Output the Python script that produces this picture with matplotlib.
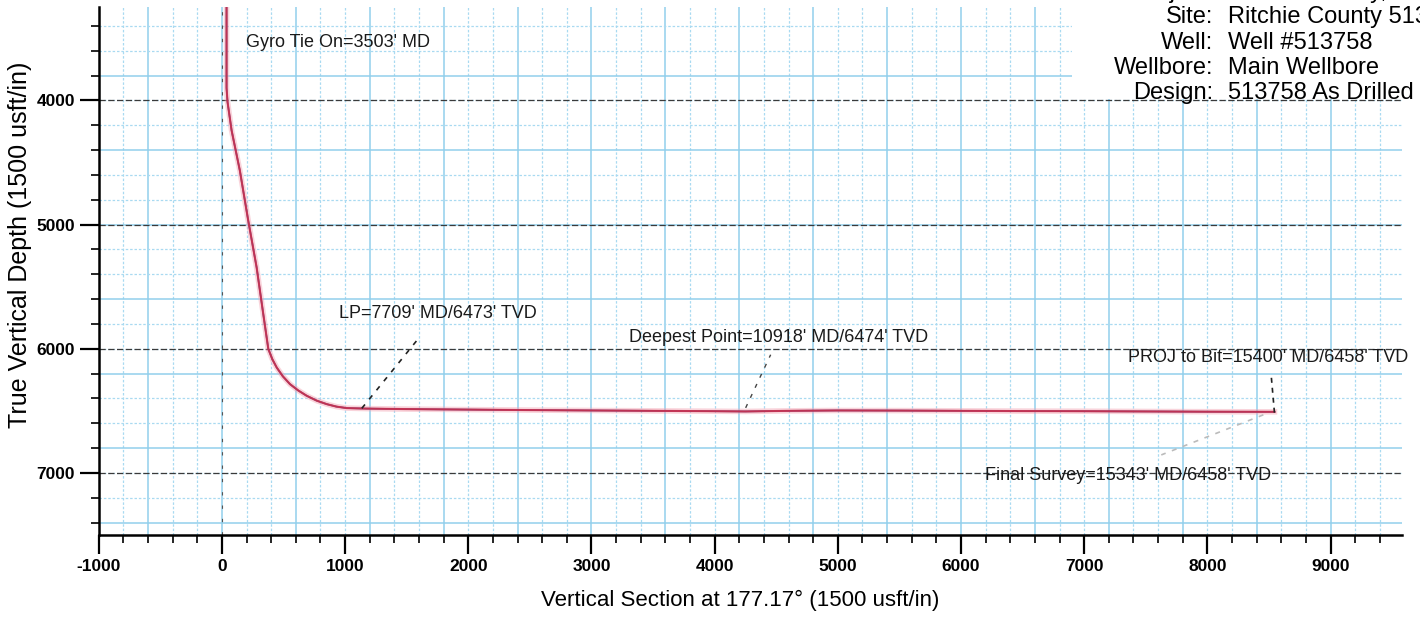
import matplotlib
matplotlib.use("Agg")
import matplotlib.pyplot as plt
from matplotlib.patches import Rectangle
import numpy as np

plt.rcParams['font.family'] = ['Liberation Sans', 'DejaVu Sans']
plt.rcParams['axes.unicode_minus'] = False

# well path: vertical section (usft) vs true vertical depth (usft)
vs = [38, 38, 46, 79, 146, 214, 282, 336, 377, 410, 445, 495, 553, 620, 689,
      770, 851, 930, 1014, 1176,
      1500, 2000, 2500, 3000, 3500, 4000, 4250, 4600, 5000, 5500, 6000,
      6500, 7000, 7500, 8000, 8545]
tvd = [3200, 3900, 4013, 4242, 4565, 4968, 5344, 5720, 6002, 6085, 6151, 6222,
       6285, 6336, 6379, 6418, 6446, 6466, 6478, 6482, 6486, 6490, 6494, 6497,
       6500, 6503, 6505, 6500, 6497, 6498, 6500, 6502, 6503, 6505, 6507, 6508]

x_ticks = [-1000, 0, 1000, 2000, 3000, 4000, 5000, 6000, 7000, 8000, 9000]
y_ticks = [4000, 5000, 6000, 7000]

notes = ["Gyro Tie On=3503' MD",
         "LP=7709' MD/6473' TVD",
         "Deepest Point=10918' MD/6474' TVD",
         "PROJ to Bit=15400' MD/6458' TVD",
         "Final Survey=15343' MD/6458' TVD"]
note_x = [195, 951, 3309, 7358, 6195]
note_y = [3532, 5718, 5911, 6073, 7020]

header_keys = ["Project:", "Site:", "Well:", "Wellbore:", "Design:"]
header_vals = ["Ritchie County, WV", "Ritchie County 513758", "Well #513758",
               "Main Wellbore", "513758 As Drilled"]

fig = plt.figure(figsize=(14.2, 6.18), dpi=100)
ax = fig.add_axes([0.0695, 0.1343, 0.9178, 0.8549])
ax.set_xlim(-1000, 9580)
ax.set_ylim(7500, 3245)

# blue paper grid
for gx in np.arange(-800, 9600, 200):
    if gx % 600 == 0:
        ax.axvline(gx, color='#92cfec', lw=1.1, zorder=1)
    else:
        ax.axvline(gx, color='#a9daf1', lw=0.9, ls=(0, (2, 1.5)), zorder=1)
for gy in np.arange(3400, 7500, 200):
    if gy % 600 == 200:
        ax.axhline(gy, color='#92cfec', lw=1.1, zorder=1)
    else:
        ax.axhline(gy, color='#a9daf1', lw=0.9, ls=(0, (2, 1.5)), zorder=1)

# black dashed reference lines
for ty in y_ticks:
    ax.axhline(ty, color='#3a3a3a', lw=0.9, ls=(0, (5, 2)), zorder=2)
ax.axvline(0, color='#555555', lw=0.8, ls=(0, (3, 9)), zorder=2)

# white header block
ax.add_patch(Rectangle((6900, 3245), 2700, 740, facecolor='white',
                       edgecolor='none', zorder=2.5, clip_on=False))

# well path (plan red, survey blue)
ax.plot(vs, tvd, color='#f2a0b0', lw=4, alpha=0.45, zorder=3)
ax.plot(vs, tvd, color='#2b3f8f', lw=1.2, zorder=4)
ax.plot(vs, tvd, color='#d8304a', lw=1.5, alpha=0.85, zorder=5)

# annotations
for t, nx, ny in zip(notes, note_x, note_y):
    ax.text(nx, ny, t, fontsize=13, va='center', ha='left', color='#1a1a1a', zorder=6)

ax.plot([1136, 1610], [6480, 5900], color='#222222', lw=1.2, ls=(0, (3, 4)), zorder=6)
ax.plot([4252, 4455], [6476, 6048], color='#444444', lw=1.0, ls=(0, (3, 5)), zorder=6)
ax.plot([8520, 8545], [6234, 6516], color='#222222', lw=1.2, ls=(0, (3, 3)), zorder=6)
ax.plot([8455, 7626], [6532, 6855], color='#bbbbbb', lw=1.2, ls=(0, (3, 4)), zorder=6)

# axes styling
for s in ['top', 'right']:
    ax.spines[s].set_visible(False)
for s in ['left', 'bottom']:
    ax.spines[s].set_linewidth(1.8)
ax.set_xticks(x_ticks)
ax.set_xticks(np.arange(-1000, 9600, 200), minor=True)
ax.set_yticks(y_ticks)
ax.set_yticks(np.arange(3400, 7500, 200), minor=True)
ax.tick_params(which='major', direction='out', length=14, width=1.6,
               labelsize=12.5, pad=3)
ax.tick_params(which='minor', direction='out', length=6, width=1.2)
for lab in ax.get_xticklabels() + ax.get_yticklabels():
    lab.set_fontweight('bold')

ax.set_xlabel("Vertical Section at 177.17° (1500 usft/in)", fontsize=16)
ax.xaxis.set_label_coords(0.492, -0.123)
ax.xaxis.label.set_va('center')
ax.set_ylabel("True Vertical Depth (1500 usft/in)", fontsize=18)
ax.yaxis.set_label_coords(-0.0604, 0.549)
ax.yaxis.label.set_va('center')

# header block text
row_y = [-8, 17, 43, 68, 93]
for k, v, ry in zip(header_keys, header_vals, row_y):
    fy = 1 - ry / 618
    fig.text(1213 / 1420, fy, k, fontsize=17, ha='right', va='center', zorder=10)
    fig.text(1228 / 1420, fy, v, fontsize=17, ha='left', va='center', zorder=10)

fig.savefig("out.png", dpi=100)
